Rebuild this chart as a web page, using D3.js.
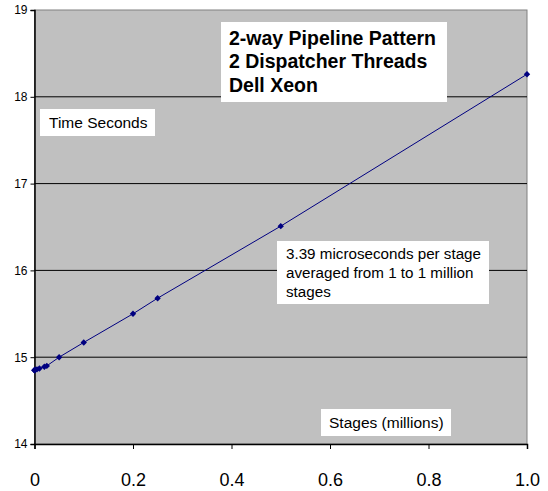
<!DOCTYPE html>
<html><head><meta charset="utf-8">
<script src="https://cdn.jsdelivr.net/npm/d3@7"></script>
<style>body{margin:0;background:#fff}svg{display:block;font-family:"Liberation Sans",Arial,sans-serif}</style>
</head><body><svg id="c" width="548" height="491"></svg>
<script>
const stages = [0.000001, 0.00001, 0.0001, 0.001, 0.005, 0.01, 0.02, 0.025, 0.05, 0.1, 0.2, 0.25, 0.5, 1.0];
const seconds = [14.85, 14.85, 14.85, 14.855, 14.86, 14.87, 14.89, 14.9, 15.0, 15.17, 15.5, 15.68, 16.51, 18.26];
const xTicks = [0, 0.2, 0.4, 0.6, 0.8, 1.0];
const yTicks = [14, 15, 16, 17, 18, 19];
const titleLines = ["2-way Pipeline Pattern", "2 Dispatcher Threads", "Dell Xeon"];
const noteLines = ["3.39 microseconds per stage", "averaged from 1 to 1 million", "stages"];
const yTitle = "Time Seconds";
const xTitle = "Stages (millions)";

const svg = d3.select("#c");
const L = 34.5, R = 527, T = 10, B = 444;
const x = d3.scaleLinear().domain([0, 1]).range([L, R]);
const y = d3.scaleLinear().domain([14, 19]).range([B, T]);

svg.append("rect").attr("x", L).attr("y", T).attr("width", R - L).attr("height", B - T)
  .attr("fill", "#c0c0c0").attr("stroke", "#808080").attr("stroke-width", 1);

svg.append("g").selectAll("line").data(yTicks.slice(1, -1)).join("line")
  .attr("x1", L).attr("x2", R).attr("y1", d => y(d)).attr("y2", d => y(d))
  .attr("stroke", "#000").attr("stroke-width", 1);

const yAxis = svg.append("g").attr("transform", `translate(${L},0)`)
  .call(d3.axisLeft(y).tickValues(yTicks).tickFormat(d3.format("d")).tickSize(4).tickPadding(3));
yAxis.select(".domain").attr("stroke", "#000").attr("stroke-width", 1.5);
yAxis.selectAll("text").attr("font-size", 12).attr("fill", "#000").attr("font-family", "Liberation Sans, Arial, sans-serif");

const xAxis = svg.append("g").attr("transform", `translate(0,${B})`)
  .call(d3.axisBottom(x).tickValues(xTicks).tickFormat(d => d === 0 ? "0" : d3.format(".1f")(d)).tickSize(5).tickPadding(24));
xAxis.select(".domain").attr("stroke", "#000").attr("stroke-width", 1.5);
xAxis.selectAll("text").attr("font-size", 18).attr("fill", "#000").attr("font-family", "Liberation Sans, Arial, sans-serif");

const pts = stages.map((s, i) => [s, seconds[i]]);
svg.append("path").datum(pts).attr("fill", "none").attr("stroke", "#000080").attr("stroke-width", 1)
  .attr("d", d3.line().x(d => x(d[0])).y(d => y(d[1])));
svg.append("g").selectAll("path").data(pts).join("path")
  .attr("transform", d => `translate(${x(d[0])},${y(d[1])})`)
  .attr("d", "M0,-3.2L3.2,0L0,3.2L-3.2,0Z").attr("fill", "#000080");

function box(x0, y0, w, h, lines, size, bold, tx, ty, lh) {
  svg.append("rect").attr("x", x0).attr("y", y0).attr("width", w).attr("height", h).attr("fill", "#fff");
  svg.append("g").selectAll("text").data(lines).join("text")
    .attr("x", tx).attr("y", (d, i) => ty + i * lh).text(d => d)
    .attr("font-size", size).attr("font-weight", bold ? "bold" : "normal").attr("fill", "#000");
}
box(221, 22, 226, 80, titleLines, 19.5, true, 229, 45, 23.4);
box(40, 109, 115, 27, [yTitle], 15.5, false, 49, 128, 0);
box(277, 241, 212, 63, noteLines, 15.2, false, 286, 259, 19);
box(321, 409, 130, 27, [xTitle], 15.5, false, 329, 428, 0);
</script></body></html>
